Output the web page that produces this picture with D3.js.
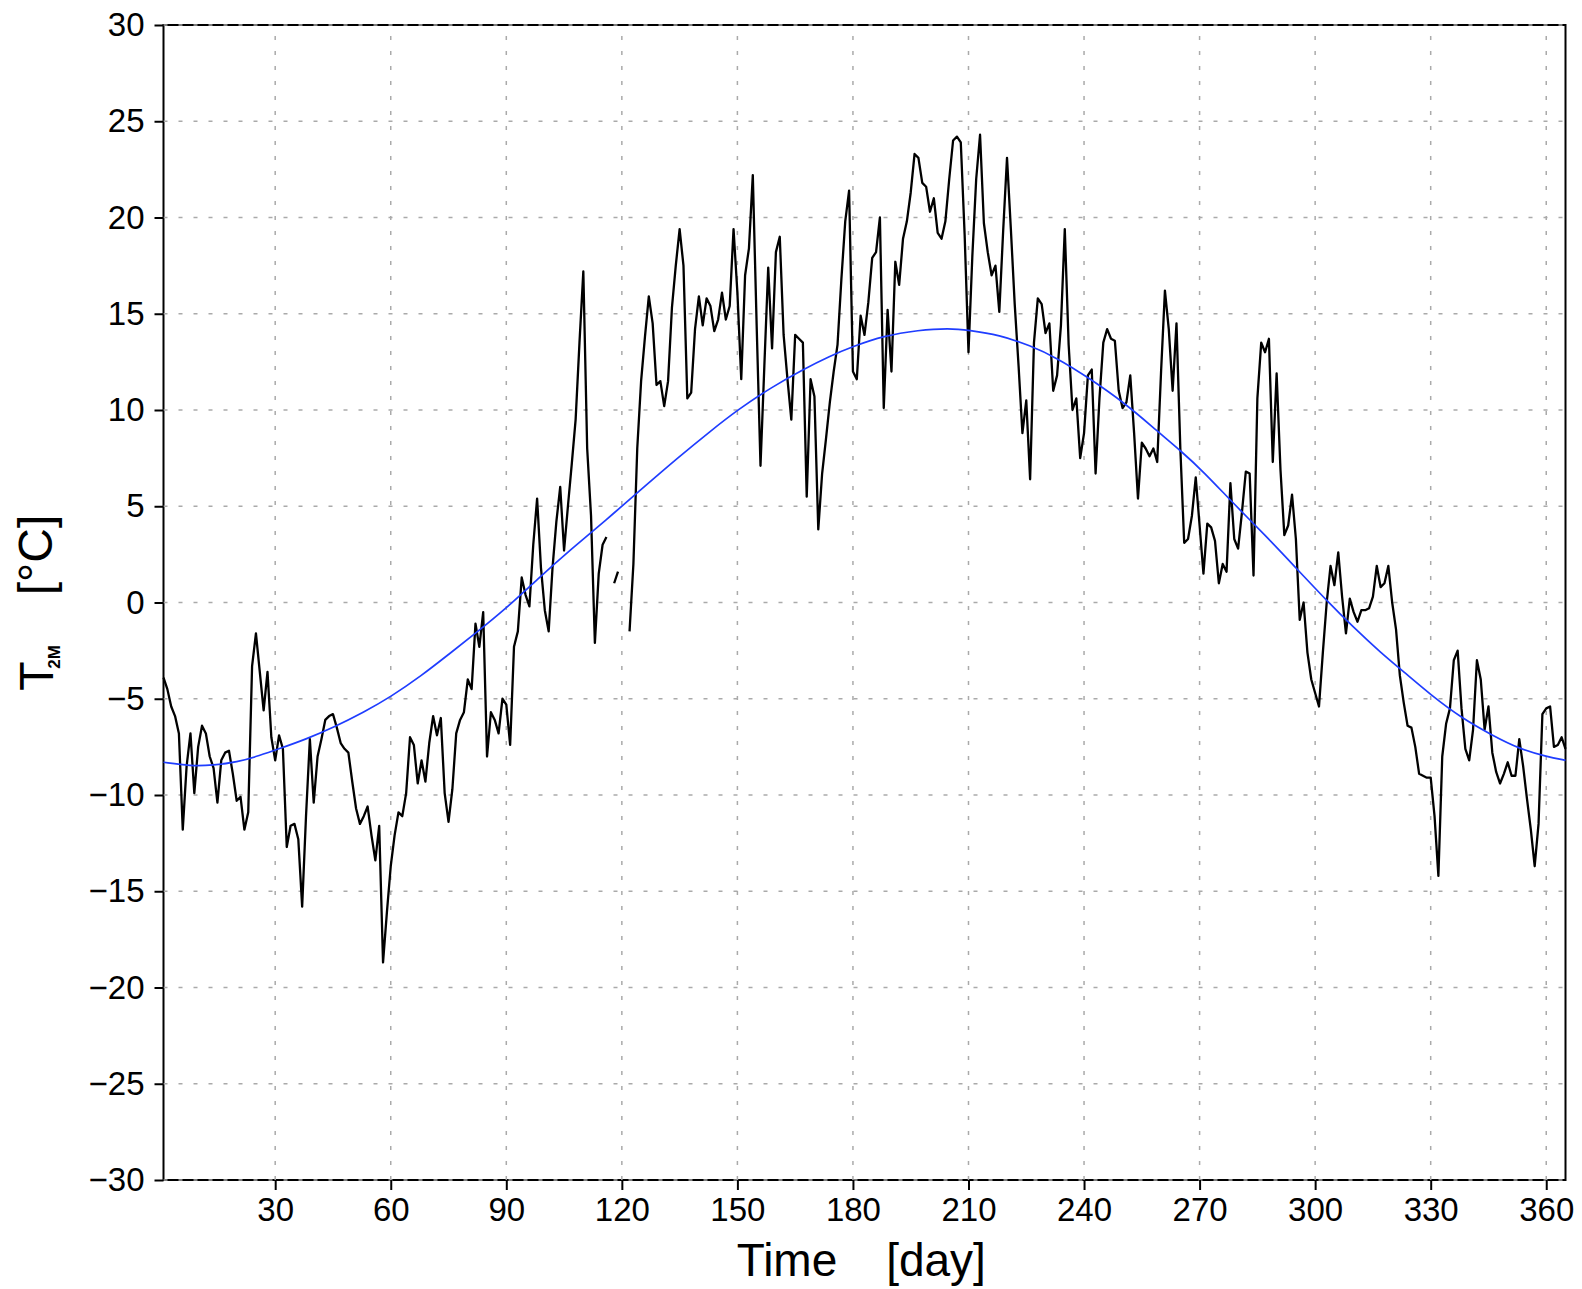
<!DOCTYPE html>
<html>
<head>
<meta charset="utf-8">
<script src="https://cdn.jsdelivr.net/npm/d3@7"></script>
<style>
    html, body { margin: 0; padding: 0; background: #fff; }
    svg { display: block; }
    text { font-family: "Liberation Sans", Arial, sans-serif; fill: #000; }
</style>
</head>
<body>
<div id="chart"></div>
<script>
// daily 2 m temperature, day 1..365 (null = missing)
const t2m = [
    -3.9, -4.5, -5.4, -5.9, -6.8, -11.8, -8.5, -6.8, -9.9, -7.5,
    -6.4, -6.8, -8.0, -8.6, -10.4, -8.2, -7.8, -7.7, -8.9, -10.3,
    -10.1, -11.8, -10.9, -3.3, -1.6, -3.6, -5.6, -3.6, -7.0, -8.2,
    -6.9, -7.6, -12.7, -11.6, -11.5, -12.3, -15.8, -11.1, -7.1, -10.4,
    -8.0, -7.1, -6.1, -5.9, -5.8, -6.5, -7.3, -7.6, -7.8, -9.3,
    -10.7, -11.5, -11.1, -10.6, -12.1, -13.4, -11.6, -18.7, -16.1, -13.7,
    -12.1, -10.9, -11.1, -9.9, -7.0, -7.4, -9.4, -8.2, -9.3, -7.3,
    -5.9, -6.9, -6.0, -9.9, -11.4, -9.7, -6.8, -6.1, -5.7, -4.0,
    -4.5, -1.1, -2.3, -0.5, -8.0, -5.7, -6.1, -6.8, -5.0, -5.3,
    -7.4, -2.3, -1.5, 1.3, 0.4, -0.2, 3.0, 5.4, 1.8, -0.4,
    -1.5, 1.8, 4.2, 6.0, 2.7, 5.0, 7.2, 9.5, 13.5, 17.2,
    8.0, 4.5, -2.1, 1.5, 3.0, 3.4, null, 1.0, 1.6, null,
    null, -1.5, 2.0, 8.0, 11.5, 13.8, 15.9, 14.5, 11.3, 11.5,
    10.2, 11.5, 15.3, 17.5, 19.4, 17.5, 10.6, 10.9, 14.2, 15.9,
    14.4, 15.8, 15.4, 14.1, 14.7, 16.1, 14.7, 15.4, 19.4, 16.1,
    11.6, 17.0, 18.4, 22.2, 14.4, 7.1, 12.3, 17.4, 13.2, 18.2,
    19.0, 13.9, 11.6, 9.5, 13.9, 13.7, 13.5, 5.5, 11.6, 10.7,
    3.8, 6.7, 8.5, 10.4, 12.0, 13.4, 16.8, 19.8, 21.4, 12.0,
    11.6, 14.9, 13.9, 15.6, 17.9, 18.2, 20.0, 10.1, 15.2, 12.0,
    17.7, 16.5, 18.9, 19.8, 21.3, 23.3, 23.1, 21.8, 21.6, 20.3,
    21.0, 19.2, 18.9, 19.8, 22.0, 24.0, 24.2, 23.9, 19.1, 13.0,
    18.0, 22.0, 24.3, 19.7, 18.2, 17.0, 17.5, 15.1, 19.3, 23.1,
    19.4, 15.5, 12.3, 8.8, 10.5, 6.4, 13.5, 15.8, 15.5, 14.0,
    14.5, 11.0, 11.8, 14.4, 19.4, 13.4, 10.0, 10.6, 7.5, 8.8,
    11.8, 12.1, 6.7, 10.6, 13.5, 14.2, 13.7, 13.6, 11.0, 10.1,
    10.4, 11.8, 8.8, 5.4, 8.3, 8.0, 7.6, 8.0, 7.3, 12.0,
    16.2, 14.2, 11.0, 14.5, 8.0, 3.1, 3.3, 4.5, 6.5, 4.0,
    1.5, 4.1, 3.9, 3.2, 1.0, 2.0, 1.6, 6.2, 3.3, 2.8,
    4.7, 6.8, 6.7, 1.4, 10.6, 13.5, 13.0, 13.7, 7.3, 11.9,
    6.9, 3.5, 4.0, 5.6, 3.3, -0.9, 0.0, -2.6, -4.0, -4.7,
    -5.4, -2.6, 0.0, 1.9, 0.9, 2.6, 0.3, -1.6, 0.2, -0.5,
    -1.0, -0.4, -0.4, -0.3, 0.3, 1.9, 0.8, 1.0, 1.9, 0.0,
    -1.4, -3.8, -5.2, -6.4, -6.5, -7.5, -8.9, -9.0, -9.1, -9.1,
    -11.1, -14.2, -8.0, -6.3, -5.5, -3.0, -2.5, -5.5, -7.6, -8.2,
    -6.6, -3.0, -4.0, -6.6, -5.4, -7.8, -8.8, -9.4, -8.9, -8.3,
    -9.0, -9.0, -7.1, -8.5, -10.2, -11.8, -13.7, -11.5, -5.8, -5.5,
    -5.4, -7.5, -7.4, -7.0, -7.6
];

// seasonal cycle (blue), read at these days
const fitDays = [1, 8, 14, 20, 26, 31, 38, 45, 53, 60, 68, 75, 82, 90, 98, 107, 116, 124, 135,
    143, 150, 159, 167, 174, 180, 188, 197, 205, 210, 218, 226, 233, 241, 251, 259, 265, 271,
    279, 287, 295, 303, 310, 317, 323, 330, 338, 346, 353, 360, 365];
const fitT2m = [-8.3, -8.5, -8.45, -8.3, -7.95, -7.6, -7.1, -6.5, -5.7, -4.9, -3.8, -2.7, -1.6, -0.3, 1.2, 2.8, 4.3, 5.7, 7.6,
    8.9, 10.0, 11.2, 12.1, 12.8, 13.3, 13.85, 14.15, 14.25, 14.15, 13.9, 13.35, 12.7, 11.7, 10.3, 8.9, 7.9, 6.8,
    5.1, 3.5, 1.8, 0.1, -1.3, -2.6, -3.6, -4.8, -6.0, -6.9, -7.6, -8.0, -8.2];

const xTickValues = [30, 60, 90, 120, 150, 180, 210, 240, 270, 300, 330, 360];
const yTickValues = [-30, -25, -20, -15, -10, -5, 0, 5, 10, 15, 20, 25, 30];

const width = 1582;
const height = 1289;
const plot = { left: 163.5, right: 1565.5, top: 25, bottom: 1180 };

const svg = d3.select('#chart')
    .append('svg')
    .attr('width', width)
    .attr('height', height);

svg.append('rect')
    .attr('width', width)
    .attr('height', height)
    .attr('fill', '#fff');

const x = d3.scaleLinear()
    .domain([1, 365])
    .range([plot.left, plot.right]);

const y = d3.scaleLinear()
    .domain([-30, 30])
    .range([plot.bottom, plot.top]);

// frame
svg.append('rect')
    .attr('x', plot.left)
    .attr('y', plot.top)
    .attr('width', plot.right - plot.left)
    .attr('height', plot.bottom - plot.top)
    .attr('fill', 'none')
    .attr('stroke', '#000')
    .attr('stroke-width', 2);

// dotted grid
svg.selectAll('.vgrid')
    .data(xTickValues)
    .enter()
    .append('line')
    .attr('class', 'vgrid')
    .attr('x1', d => x(d))
    .attr('x2', d => x(d))
    .attr('y1', plot.bottom)
    .attr('y2', plot.top)
    .attr('stroke', '#aaa')
    .attr('stroke-width', 1.5)
    .attr('stroke-dasharray', '4,11');

svg.selectAll('.hgrid')
    .data(yTickValues)
    .enter()
    .append('line')
    .attr('class', 'hgrid')
    .attr('x1', plot.left)
    .attr('x2', plot.right)
    .attr('y1', d => y(d))
    .attr('y2', d => y(d))
    .attr('stroke', '#aaa')
    .attr('stroke-width', 1.5)
    .attr('stroke-dasharray', '4,11');

// axes
const fmt = d => (d < 0 ? '\u2212' + Math.abs(d) : String(d));

const xAxis = d3.axisBottom(x)
    .tickValues(xTickValues)
    .tickSize(10)
    .tickPadding(8)
    .tickFormat(fmt);

const yAxis = d3.axisLeft(y)
    .tickValues(yTickValues)
    .tickSize(9)
    .tickPadding(10)
    .tickFormat(fmt);

const gx = svg.append('g')
    .attr('transform', `translate(0,${plot.bottom})`)
    .call(xAxis);

const gy = svg.append('g')
    .attr('transform', `translate(${plot.left},0)`)
    .call(yAxis);

[gx, gy].forEach(g => {
    g.select('.domain').remove();
    g.selectAll('.tick line')
        .attr('stroke', '#000')
        .attr('stroke-width', 2);
    g.selectAll('.tick text')
        .style('font-family', '"Liberation Sans", Arial, sans-serif')
        .style('font-size', '33px')
        .attr('fill', '#000');
});

// series
const series = t2m.map((v, i) => ({ day: i + 1, value: v }));

const line = d3.line()
    .defined(d => d.value !== null)
    .x(d => x(d.day))
    .y(d => y(d.value));

svg.append('path')
    .datum(series)
    .attr('fill', 'none')
    .attr('stroke', '#000')
    .attr('stroke-width', 2.3)
    .attr('stroke-linejoin', 'round')
    .attr('d', line);

const fit = fitDays.map((d, i) => ({ day: d, value: fitT2m[i] }));

const fitLine = d3.line()
    .x(d => x(d.day))
    .y(d => y(d.value))
    .curve(d3.curveBasis);

svg.append('path')
    .datum(fit)
    .attr('fill', 'none')
    .attr('stroke', '#1f3dff')
    .attr('stroke-width', 1.7)
    .attr('d', fitLine);

// axis titles
svg.append('text')
    .attr('x', 787)
    .attr('y', 1276)
    .attr('text-anchor', 'middle')
    .style('font-size', '46px')
    .text('Time');

svg.append('text')
    .attr('x', 936)
    .attr('y', 1276)
    .attr('text-anchor', 'middle')
    .style('font-size', '46px')
    .text('[day]');

svg.append('text')
    .attr('transform', 'translate(53,676) rotate(-90)')
    .attr('text-anchor', 'middle')
    .style('font-size', '48px')
    .text('T');

svg.append('text')
    .attr('transform', 'translate(60,657) rotate(-90)')
    .attr('text-anchor', 'middle')
    .style('font-size', '17px')
    .style('font-weight', 'bold')
    .text('2M');

svg.append('text')
    .attr('transform', 'translate(52,555) rotate(-90)')
    .attr('text-anchor', 'middle')
    .style('font-size', '48px')
    .text('[°C]');
</script>
</body>
</html>
